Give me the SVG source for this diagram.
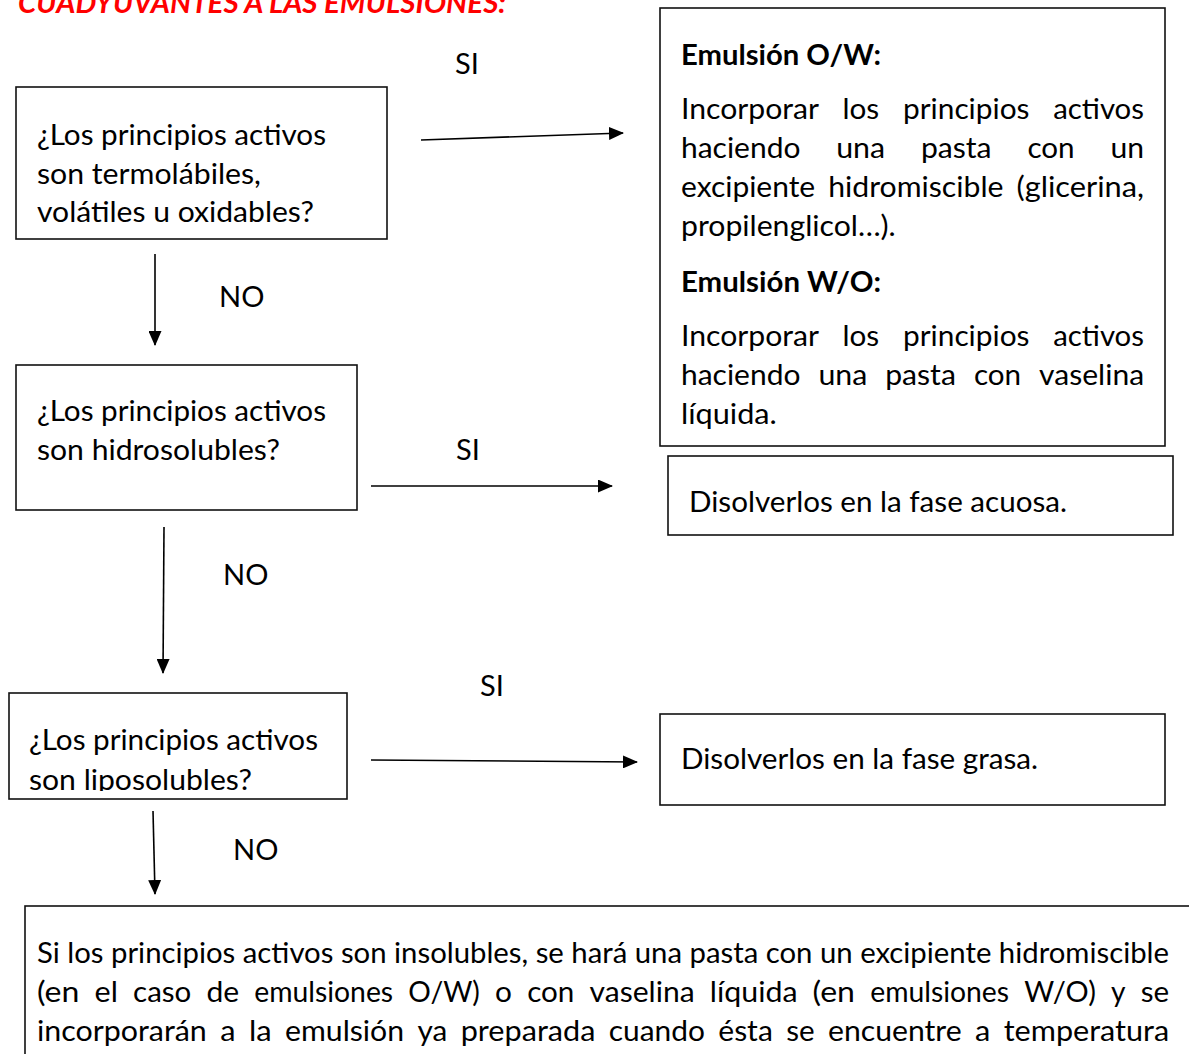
<svg xmlns="http://www.w3.org/2000/svg" width="1189" height="1054" viewBox="0 0 1189 1054">
<style>
  text { font-family: Lato, "Liberation Sans", sans-serif; font-size: 29px; fill: #000; }
  .b { font-weight: bold; }
  .box { fill: #fff; stroke: #111; stroke-width: 1.6; }
  .title { fill: #ff0000; font-weight: bold; font-style: italic; }
  .conn { stroke: #000; stroke-width: 1.6; fill: none; marker-end: url(#arr); }
</style>
<defs>
  <marker id="arr" markerUnits="userSpaceOnUse" markerWidth="15" markerHeight="13" refX="14" refY="6.5" orient="auto">
    <path d="M0,0 L15,6.5 L0,13 z" fill="#000"/>
  </marker>
  <clipPath id="clip3"><rect x="9" y="693" width="338" height="98"/></clipPath>
</defs>
<rect width="1189" height="1054" fill="#fff"/>

<g id="title">
  <text class="title" x="18" y="13" textLength="488" lengthAdjust="spacingAndGlyphs">CUADYUVANTES A LAS EMULSIONES:</text>
</g>

<g id="q1">
  <rect class="box" x="16" y="87" width="371" height="152"/>
  <text x="37" y="145" textLength="289" lengthAdjust="spacingAndGlyphs">¿Los principios activos</text>
  <text x="37" y="184" textLength="224" lengthAdjust="spacingAndGlyphs">son termolábiles,</text>
  <text x="37" y="222" textLength="277" lengthAdjust="spacingAndGlyphs">volátiles u oxidables?</text>
</g>

<g id="r1">
  <rect class="box" x="660" y="8" width="505" height="438"/>
  <text class="b" x="681" y="65" textLength="200" lengthAdjust="spacingAndGlyphs">Emulsión O/W:</text>
  <g>
    <text x="681" y="119" textLength="138" lengthAdjust="spacingAndGlyphs">Incorporar</text>
    <text x="842.5" y="119" textLength="36.7" lengthAdjust="spacingAndGlyphs">los</text>
    <text x="903" y="119" textLength="126.5" lengthAdjust="spacingAndGlyphs">principios</text>
    <text x="1053.2" y="119" textLength="90.8" lengthAdjust="spacingAndGlyphs">activos</text>
  </g>
  <g>
    <text x="681" y="158" textLength="119.4" lengthAdjust="spacingAndGlyphs">haciendo</text>
    <text x="836.2" y="158" textLength="48.9" lengthAdjust="spacingAndGlyphs">una</text>
    <text x="920.9" y="158" textLength="70.7" lengthAdjust="spacingAndGlyphs">pasta</text>
    <text x="1027.4" y="158" textLength="47.2" lengthAdjust="spacingAndGlyphs">con</text>
    <text x="1110.4" y="158" textLength="33.6" lengthAdjust="spacingAndGlyphs">un</text>
  </g>
  <g>
    <text x="681" y="197" textLength="134.2" lengthAdjust="spacingAndGlyphs">excipiente</text>
    <text x="828.2" y="197" textLength="175.3" lengthAdjust="spacingAndGlyphs">hidromiscible</text>
    <text x="1016.5" y="197" textLength="127.5" lengthAdjust="spacingAndGlyphs">(glicerina,</text>
  </g>
  <text x="681" y="236" textLength="214.7" lengthAdjust="spacingAndGlyphs">propilenglicol…).</text>
  <text class="b" x="681" y="292" textLength="200" lengthAdjust="spacingAndGlyphs">Emulsión W/O:</text>
  <g>
    <text x="681" y="346" textLength="138" lengthAdjust="spacingAndGlyphs">Incorporar</text>
    <text x="842.5" y="346" textLength="36.7" lengthAdjust="spacingAndGlyphs">los</text>
    <text x="903" y="346" textLength="126.5" lengthAdjust="spacingAndGlyphs">principios</text>
    <text x="1053.2" y="346" textLength="90.8" lengthAdjust="spacingAndGlyphs">activos</text>
  </g>
  <g>
    <text x="681" y="385" textLength="119.4" lengthAdjust="spacingAndGlyphs">haciendo</text>
    <text x="818.4" y="385" textLength="48.9" lengthAdjust="spacingAndGlyphs">una</text>
    <text x="885.2" y="385" textLength="70.7" lengthAdjust="spacingAndGlyphs">pasta</text>
    <text x="973.9" y="385" textLength="47.2" lengthAdjust="spacingAndGlyphs">con</text>
    <text x="1039.1" y="385" textLength="105" lengthAdjust="spacingAndGlyphs">vaselina</text>
  </g>
  <text x="681" y="424" textLength="95.8" lengthAdjust="spacingAndGlyphs">líquida.</text>
</g>

<g id="q2">
  <rect class="box" x="16" y="365" width="341" height="145"/>
  <text x="37" y="421" textLength="289" lengthAdjust="spacingAndGlyphs">¿Los principios activos</text>
  <text x="37" y="460" textLength="243" lengthAdjust="spacingAndGlyphs">son hidrosolubles?</text>
</g>

<g id="r2">
  <rect class="box" x="668" y="456" width="505" height="79"/>
  <text x="689" y="512" textLength="378" lengthAdjust="spacingAndGlyphs">Disolverlos en la fase acuosa.</text>
</g>

<g id="q3">
  <rect class="box" x="9" y="693" width="338" height="106"/>
  <g clip-path="url(#clip3)">
    <text x="29" y="750" textLength="289" lengthAdjust="spacingAndGlyphs">¿Los principios activos</text>
    <text x="29" y="790" textLength="223" lengthAdjust="spacingAndGlyphs">son liposolubles?</text>
  </g>
</g>

<g id="r3">
  <rect class="box" x="660" y="714" width="505" height="91"/>
  <text x="681" y="769" textLength="357" lengthAdjust="spacingAndGlyphs">Disolverlos en la fase grasa.</text>
</g>

<g id="r4">
  <rect class="box" x="25" y="906" width="1200" height="200"/>
  <text x="37" y="963" textLength="1132" lengthAdjust="spacingAndGlyphs">Si los principios activos son insolubles, se hará una pasta con un excipiente hidromiscible</text>
  <g>
    <text x="37" y="1002" textLength="42.4" lengthAdjust="spacingAndGlyphs">(en</text>
    <text x="94.6" y="1002" textLength="23.3" lengthAdjust="spacingAndGlyphs">el</text>
    <text x="133.1" y="1002" textLength="58.2" lengthAdjust="spacingAndGlyphs">caso</text>
    <text x="206.4" y="1002" textLength="32.7" lengthAdjust="spacingAndGlyphs">de</text>
    <text x="254.3" y="1002" textLength="138.8" lengthAdjust="spacingAndGlyphs">emulsiones</text>
    <text x="408.2" y="1002" textLength="71.7" lengthAdjust="spacingAndGlyphs">O/W)</text>
    <text x="495.1" y="1002" textLength="16.9" lengthAdjust="spacingAndGlyphs">o</text>
    <text x="527.2" y="1002" textLength="47.2" lengthAdjust="spacingAndGlyphs">con</text>
    <text x="589.6" y="1002" textLength="105" lengthAdjust="spacingAndGlyphs">vaselina</text>
    <text x="709.8" y="1002" textLength="87.7" lengthAdjust="spacingAndGlyphs">líquida</text>
    <text x="812.6" y="1002" textLength="42.4" lengthAdjust="spacingAndGlyphs">(en</text>
    <text x="870.2" y="1002" textLength="138.8" lengthAdjust="spacingAndGlyphs">emulsiones</text>
    <text x="1024.2" y="1002" textLength="71.7" lengthAdjust="spacingAndGlyphs">W/O)</text>
    <text x="1111.1" y="1002" textLength="14.5" lengthAdjust="spacingAndGlyphs">y</text>
    <text x="1140.7" y="1002" textLength="28.4" lengthAdjust="spacingAndGlyphs">se</text>
  </g>
  <g>
    <text x="37" y="1041" textLength="169.8" lengthAdjust="spacingAndGlyphs">incorporarán</text>
    <text x="220.2" y="1041" textLength="15.3" lengthAdjust="spacingAndGlyphs">a</text>
    <text x="248.9" y="1041" textLength="22.7" lengthAdjust="spacingAndGlyphs">la</text>
    <text x="285" y="1041" textLength="119.1" lengthAdjust="spacingAndGlyphs">emulsión</text>
    <text x="417.5" y="1041" textLength="29.8" lengthAdjust="spacingAndGlyphs">ya</text>
    <text x="460.7" y="1041" textLength="134.7" lengthAdjust="spacingAndGlyphs">preparada</text>
    <text x="608.8" y="1041" textLength="96.1" lengthAdjust="spacingAndGlyphs">cuando</text>
    <text x="718.3" y="1041" textLength="54.5" lengthAdjust="spacingAndGlyphs">ésta</text>
    <text x="786.2" y="1041" textLength="28.4" lengthAdjust="spacingAndGlyphs">se</text>
    <text x="828" y="1041" textLength="133.6" lengthAdjust="spacingAndGlyphs">encuentre</text>
    <text x="975" y="1041" textLength="15.3" lengthAdjust="spacingAndGlyphs">a</text>
    <text x="1003.7" y="1041" textLength="165.5" lengthAdjust="spacingAndGlyphs">temperatura</text>
  </g>
</g>

<g id="connectors">
  <line class="conn" x1="421" y1="140" x2="623" y2="133"/>
  <line class="conn" x1="155" y1="254" x2="155" y2="345"/>
  <line class="conn" x1="371" y1="486" x2="612" y2="486"/>
  <line class="conn" x1="164" y1="527" x2="163" y2="673"/>
  <line class="conn" x1="371" y1="760" x2="637" y2="762"/>
  <line class="conn" x1="153" y1="811" x2="155" y2="894"/>
  <text x="455" y="74">SI</text>
  <text x="219" y="307">NO</text>
  <text x="456" y="460">SI</text>
  <text x="223" y="585">NO</text>
  <text x="480" y="696">SI</text>
  <text x="233" y="860">NO</text>
</g>
</svg>
